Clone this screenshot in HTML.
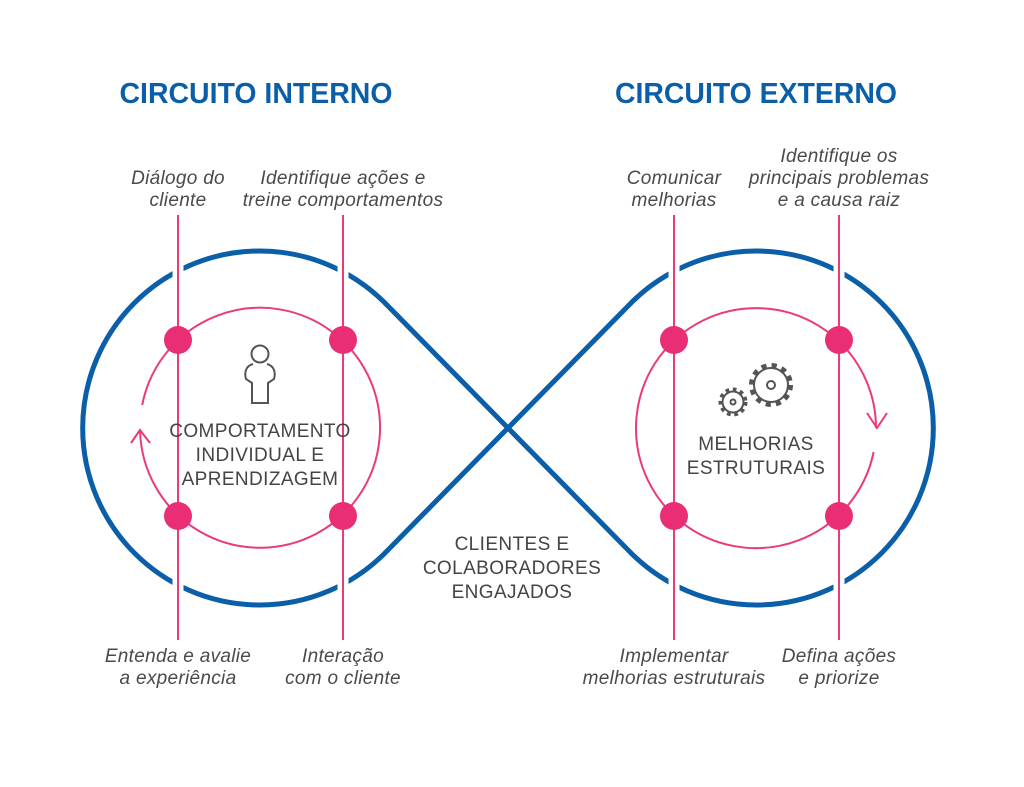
<!DOCTYPE html>
<html><head><meta charset="utf-8"><style>
html,body{margin:0;padding:0;background:#fff}
svg{display:block}
.t{font-family:"Liberation Sans",sans-serif;font-weight:bold;font-size:29px;fill:#0b5ea8}
.l{font-family:"Liberation Sans",sans-serif;font-style:italic;font-size:19px;letter-spacing:0.3px;fill:#4a4a4a}
.c{font-family:"Liberation Sans",sans-serif;font-size:19px;letter-spacing:0.4px;fill:#444}
</style></head><body>
<svg width="1024" height="787" viewBox="0 0 1024 787">
<text class="t" x="256" y="103" text-anchor="middle" textLength="273" lengthAdjust="spacingAndGlyphs">CIRCUITO INTERNO</text>
<text class="t" x="756" y="103" text-anchor="middle" textLength="282" lengthAdjust="spacingAndGlyphs">CIRCUITO EXTERNO</text>

<path d="M384,302 A177 177 0 1 0 384,554 L632,302 A177 177 0 1 1 632,554 Z" fill="none" stroke="#0b5ea8" stroke-width="5"/>
<g stroke="#fff" stroke-width="11">
<line x1="178" y1="255" x2="178" y2="290"/><line x1="343" y1="255" x2="343" y2="290"/>
<line x1="178" y1="566" x2="178" y2="601"/><line x1="343" y1="566" x2="343" y2="601"/>
<line x1="674" y1="255" x2="674" y2="290"/><line x1="839" y1="255" x2="839" y2="290"/>
<line x1="674" y1="566" x2="674" y2="601"/><line x1="839" y1="566" x2="839" y2="601"/>
</g>

<g fill="none" stroke="#ea3a7a" stroke-width="2">
<path d="M142.2,405 A120 120 0 1 1 140.1,432"/>
<path d="M131,443 L140,430 L150,443"/>
<path d="M873.6,452 A120 120 0 1 1 876,428"/>
<path d="M867,413 L877,428 L887,413"/>
<line x1="178" y1="215" x2="178" y2="640"/><line x1="343" y1="215" x2="343" y2="640"/>
<line x1="674" y1="215" x2="674" y2="640"/><line x1="839" y1="215" x2="839" y2="640"/>
</g>
<g fill="#ea2e76">
<circle cx="178" cy="340" r="14"/><circle cx="343" cy="340" r="14"/>
<circle cx="178" cy="516" r="14"/><circle cx="343" cy="516" r="14"/>
<circle cx="674" cy="340" r="14"/><circle cx="839" cy="340" r="14"/>
<circle cx="674" cy="516" r="14"/><circle cx="839" cy="516" r="14"/>
</g>

<!-- person -->
<g fill="none" stroke="#555" stroke-width="2">
<circle cx="260" cy="354" r="8.5"/>
<path d="M253,364 C246,366 244,372 246,379 L252,383 L252,403 L268,403 L268,383 L274,379 C276,372 274,366 267,364"/>
</g>
<!-- gears -->
<g fill="none" stroke="#555" stroke-width="2">
<circle cx="771" cy="385" r="19" stroke-width="6" stroke-dasharray="5 5"/>
<circle cx="733" cy="402" r="12" stroke-width="5" stroke-dasharray="3.5 3.5"/>
</g>
<circle cx="771" cy="385" r="16" fill="#fff"/><circle cx="771" cy="385" r="4" fill="none" stroke="#555" stroke-width="2"/>
<circle cx="771" cy="385" r="17" fill="none" stroke="#555" stroke-width="2"/>
<circle cx="733" cy="402" r="9.5" fill="#fff"/><circle cx="733" cy="402" r="2.5" fill="none" stroke="#555" stroke-width="2"/>
<circle cx="733" cy="402" r="10.5" fill="none" stroke="#555" stroke-width="2"/>

<g class="c" text-anchor="middle">
<text x="260" y="437">COMPORTAMENTO</text>
<text x="260" y="461">INDIVIDUAL E</text>
<text x="260" y="485">APRENDIZAGEM</text>
<text x="756" y="450">MELHORIAS</text>
<text x="756" y="474">ESTRUTURAIS</text>
<text x="512" y="550">CLIENTES E</text>
<text x="512" y="574">COLABORADORES</text>
<text x="512" y="598">ENGAJADOS</text>
</g>

<g class="l" text-anchor="middle">
<text x="178" y="184">Diálogo do</text><text x="178" y="206">cliente</text>
<text x="343" y="184">Identifique ações e</text><text x="343" y="206">treine comportamentos</text>
<text x="674" y="184">Comunicar</text><text x="674" y="206">melhorias</text>
<text x="839" y="162">Identifique os</text><text x="839" y="184">principais problemas</text><text x="839" y="206">e a causa raiz</text>
<text x="178" y="662">Entenda e avalie</text><text x="178" y="684">a experiência</text>
<text x="343" y="662">Interação</text><text x="343" y="684">com o cliente</text>
<text x="674" y="662">Implementar</text><text x="674" y="684">melhorias estruturais</text>
<text x="839" y="662">Defina ações</text><text x="839" y="684">e priorize</text>
</g>
</svg>
</body></html>
